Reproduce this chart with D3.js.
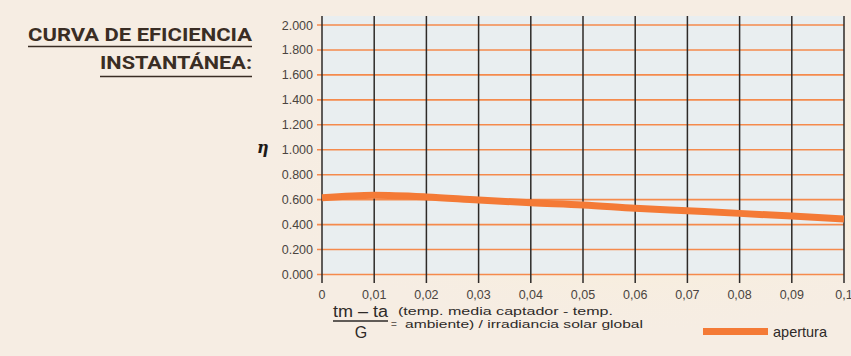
<!DOCTYPE html>
<html><head><meta charset="utf-8">
<script src="https://cdn.jsdelivr.net/npm/d3@7"></script>
<style>body{margin:0;background:#f6ede3;}svg{display:block;}</style>
</head><body>
<svg id="c" width="851" height="356"></svg>
<script>
const xValues = [0, 0.01, 0.02, 0.03, 0.04, 0.05, 0.06, 0.07, 0.08, 0.09, 0.1];
const etaValues = [0.615, 0.635, 0.622, 0.597, 0.575, 0.558, 0.532, 0.511, 0.49, 0.468, 0.444];
const xTickLabels = ["0","0,01","0,02","0,03","0,04","0,05","0,06","0,07","0,08","0,09","0,1"];
const yTicks = [0, 0.2, 0.4, 0.6, 0.8, 1.0, 1.2, 1.4, 1.6, 1.8, 2.0];
const yTickLabels = ["0.000","0.200","0.400","0.600","0.800","1.000","1.200","1.400","1.600","1.800","2.000"];
const seriesName = "apertura";

const svg = d3.select("#c");
const defs = svg.append("defs");
const g1 = defs.append("radialGradient").attr("id","glow").attr("cx","0.75").attr("cy","0.5").attr("r","0.45");
g1.append("stop").attr("offset","0").attr("stop-color","#fff3c4").attr("stop-opacity",0.9);
g1.append("stop").attr("offset","1").attr("stop-color","#f6ede3").attr("stop-opacity",0);
svg.append("rect").attr("width",851).attr("height",356).attr("fill","#f6ede3");
svg.append("rect").attr("width",851).attr("height",356).attr("fill","url(#glow)");

const x = d3.scaleLinear().domain([0,0.1]).range([322,844]);
const y = d3.scaleLinear().domain([0,2]).range([274.5,25]);

// plot background
svg.append("rect").attr("x",x(0)).attr("y",16).attr("width",x(0.1)-x(0)).attr("height",y(0)-16)
  .attr("fill","#e9eef0");

// horizontal grid (orange)
svg.append("g").selectAll("line").data(yTicks).join("line")
  .attr("x1",317).attr("x2",x(0.1)).attr("y1",d=>y(d)).attr("y2",d=>y(d))
  .attr("stroke","#f58a4c").attr("stroke-width",1.6);

// vertical grid (dark)
svg.append("g").selectAll("line").data(xValues).join("line")
  .attr("x1",d=>x(d)).attr("x2",d=>x(d)).attr("y1",16).attr("y2",283)
  .attr("stroke","#2e2a28").attr("stroke-width",1.5);

// y labels
svg.append("g").selectAll("text").data(yTicks).join("text")
  .attr("x",313).attr("y",d=>y(d)+4.5).attr("text-anchor","end")
  .attr("font-family","Liberation Sans, Arial, sans-serif").attr("font-size",12.5)
  .attr("fill","#4a4440").text((d,i)=>yTickLabels[i]);

// x labels
svg.append("g").selectAll("text").data(xValues).join("text")
  .attr("x",d=>x(d)).attr("y",299).attr("text-anchor","middle")
  .attr("font-family","Liberation Sans, Arial, sans-serif").attr("font-size",12.5)
  .attr("fill","#4a4440").text((d,i)=>xTickLabels[i]);

// curve
const line = d3.line().x((d,i)=>x(xValues[i])).y(d=>y(d)).curve(d3.curveMonotoneX);
svg.append("path").datum(etaValues).attr("d",line).attr("fill","none")
  .attr("stroke","#f47a36").attr("stroke-width",7).attr("stroke-linecap","butt");

// eta
svg.append("text").attr("x",257).attr("y",153).attr("font-family","DejaVu Serif, serif")
  .attr("font-weight","bold").attr("font-style","italic").attr("font-size",16).attr("fill","#1e1a18").text("η");

// title
const tf = "Liberation Sans Narrow, Roboto, Arial Narrow, sans-serif";
svg.append("text").attr("x",28).attr("y",41).attr("font-family",tf).attr("font-weight","bold")
  .attr("font-size",19).attr("fill","#3a2d24").attr("textLength",224).attr("lengthAdjust","spacingAndGlyphs")
  .text("CURVA DE EFICIENCIA");
svg.append("line").attr("x1",28).attr("x2",252).attr("y1",46.5).attr("y2",46.5).attr("stroke","#3a2d24").attr("stroke-width",1.5);
svg.append("text").attr("x",100).attr("y",69).attr("font-family",tf).attr("font-weight","bold")
  .attr("font-size",19).attr("fill","#3a2d24").attr("textLength",152).attr("lengthAdjust","spacingAndGlyphs")
  .text("INSTANTÁNEA:");
svg.append("line").attr("x1",100).attr("x2",252).attr("y1",76.5).attr("y2",76.5).attr("stroke","#3a2d24").attr("stroke-width",1.5);

// formula
const ff = "Liberation Sans, Arial, sans-serif";
svg.append("text").attr("x",333).attr("y",317).attr("font-family",ff)
  .attr("font-size",16).attr("fill","#2e2a28").attr("textLength",55).attr("lengthAdjust","spacingAndGlyphs").text("tm – ta");
svg.append("line").attr("x1",333).attr("x2",388).attr("y1",321).attr("y2",321).attr("stroke","#2e2a28").attr("stroke-width",1.5);
svg.append("text").attr("x",361).attr("y",338).attr("text-anchor","middle").attr("font-family",ff)
  .attr("font-size",16).attr("fill","#2e2a28").text("G");
svg.append("text").attr("x",391).attr("y",328).attr("font-family",ff)
  .attr("font-size",10).attr("fill","#6a625c").text("=");
svg.append("text").attr("x",398).attr("y",315).attr("font-family",ff)
  .attr("font-size",11).attr("fill","#2e2a28").attr("textLength",215).attr("lengthAdjust","spacingAndGlyphs")
  .text("(temp. media captador - temp.");
svg.append("text").attr("x",405).attr("y",327.5).attr("font-family",ff)
  .attr("font-size",11).attr("fill","#2e2a28").attr("textLength",238).attr("lengthAdjust","spacingAndGlyphs")
  .text("ambiente) / irradiancia solar global");

// legend
svg.append("line").attr("x1",703).attr("x2",768).attr("y1",331.5).attr("y2",331.5)
  .attr("stroke","#f47a36").attr("stroke-width",7);
svg.append("text").attr("x",773).attr("y",336.5).attr("font-family",ff)
  .attr("font-size",14.5).attr("fill","#2e2a28").text(seriesName);
</script>
</body></html>
